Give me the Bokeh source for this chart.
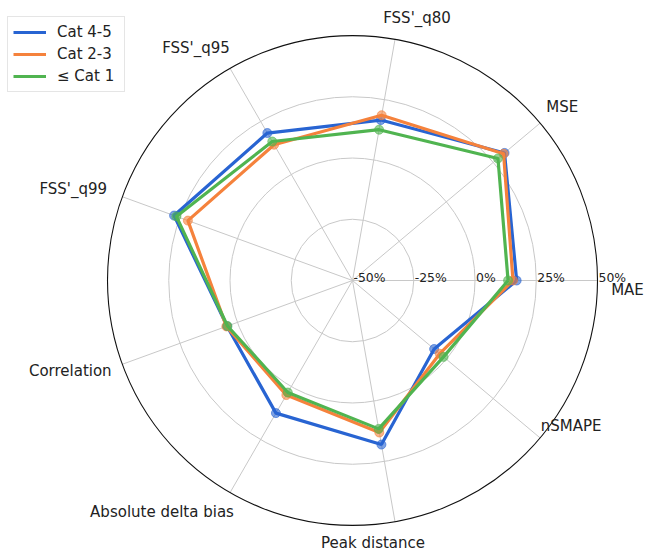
import numpy as np
from bokeh.plotting import figure
from bokeh.models import Range1d, Legend, LegendItem
from bokeh.core.properties import value
from bokeh.embed import file_html
from bokeh.resources import INLINE

# ---------------- data ----------------
categories = ["MAE", "MSE", "FSS'_q80", "FSS'_q95", "FSS'_q99",
              "Correlation", "Absolute delta bias", "Peak distance", "nSMAPE"]
series_names = ["Cat 4-5", "Cat 2-3", "\u2264 Cat 1"]
cat45 = [17.0, 31.0, 16.5, 19.5, 27.5, 4.5, 12.5, 18.0, -6.5]
cat23 = [15.5, 30.5, 18.5, 14.0, 21.5, 4.8, 4.0, 13.0, -3.5]
cat1 = [13.5, 27.5, 12.5, 15.5, 26.5, 4.3, 2.8, 11.5, -1.5]
r_ticks = [-50, -25, 0, 25, 50]
r_tick_labels = ["-50%", "-25%", "0%", "25%", "50%"]

# ---------------- layout / style ----------------
W, H = 645, 553
CX, CY = 352, 280          # centre in figure pixels from left / top
R = 245.0                  # outer radius in pixels
RMIN, RMAX = r_ticks[0], r_ticks[-1]
colors = ["#2864d2", "#f5823c", "#50b450"]
grid_color = "#c8c8c8"
FONT = value("DejaVu Sans")

# label pixel offsets (from the point on the outer circle)
label_dx = [30, 22, 22, -34, -49, -52, -68, -22, 31]
label_dy = [9, -16, -21, -20, -8, 7, 19, 21, -12]


def rad(v):
    return (np.asarray(v, dtype=float) - RMIN) / (RMAX - RMIN) * R


n = len(categories)
theta = 2 * np.pi * np.arange(n) / n

p = figure(width=W, height=H,
           x_range=Range1d(-CX, W - CX), y_range=Range1d(-(H - CY), CY),
           output_backend="svg", toolbar_location=None, min_border=0,
           x_axis_type=None, y_axis_type=None)
p.grid.visible = False
p.outline_line_color = None
p.background_fill_color = "white"

# grid circles
inner = [t for t in r_ticks if RMIN < t < RMAX]
p.circle(x=[0] * len(inner), y=[0] * len(inner), radius=list(rad(inner)),
         fill_color=None, line_color=grid_color, line_width=1)
# spokes
p.segment(x0=[0] * n, y0=[0] * n, x1=list(R * np.cos(theta)), y1=list(R * np.sin(theta)),
          line_color=grid_color, line_width=1)
# outer spine
p.circle(x=[0], y=[0], radius=[R], fill_color=None, line_color="#111111", line_width=1.1)

# radial tick labels
p.text(x=list(rad(r_ticks)), y=[0] * len(r_ticks), text=r_tick_labels,
       x_offset=1, y_offset=-3, text_align="left", text_baseline="alphabetic",
       text_font=FONT, text_font_size="12.4px", text_color="#222222")

# category labels
p.text(x=list(R * np.cos(theta)), y=list(R * np.sin(theta)), text=categories,
       x_offset=label_dx, y_offset=label_dy, text_align="center", text_baseline="middle",
       text_font=FONT, text_font_size="15px", text_color="#222222")

# series
items = []
for name, vals, col in zip(series_names, [cat45, cat23, cat1], colors):
    r = rad(vals)
    xs = list(r * np.cos(theta)) + [r[0] * np.cos(theta[0])]
    ys = list(r * np.sin(theta)) + [r[0] * np.sin(theta[0])]
    ln = p.line(xs, ys, line_color=col, line_width=3.2)
    p.scatter(xs[:-1], ys[:-1], size=9, fill_color=col, line_color=col,
              fill_alpha=0.6, line_alpha=0.6)
    items.append(LegendItem(label=name, renderers=[ln]))

legend = Legend(items=items, location=(7, 461),
                border_line_color="#cccccc", border_line_width=1,
                background_fill_color="white", background_fill_alpha=0.85,
                label_text_font="DejaVu Sans", label_text_font_size="15px",
                label_text_color="#222222",
                glyph_width=33, glyph_height=20, label_height=20, label_width=62,
                label_standoff=11, padding=5, spacing=2, margin=0)
p.add_layout(legend, "center")

open("out.html", "w").write(file_html(p, INLINE))
